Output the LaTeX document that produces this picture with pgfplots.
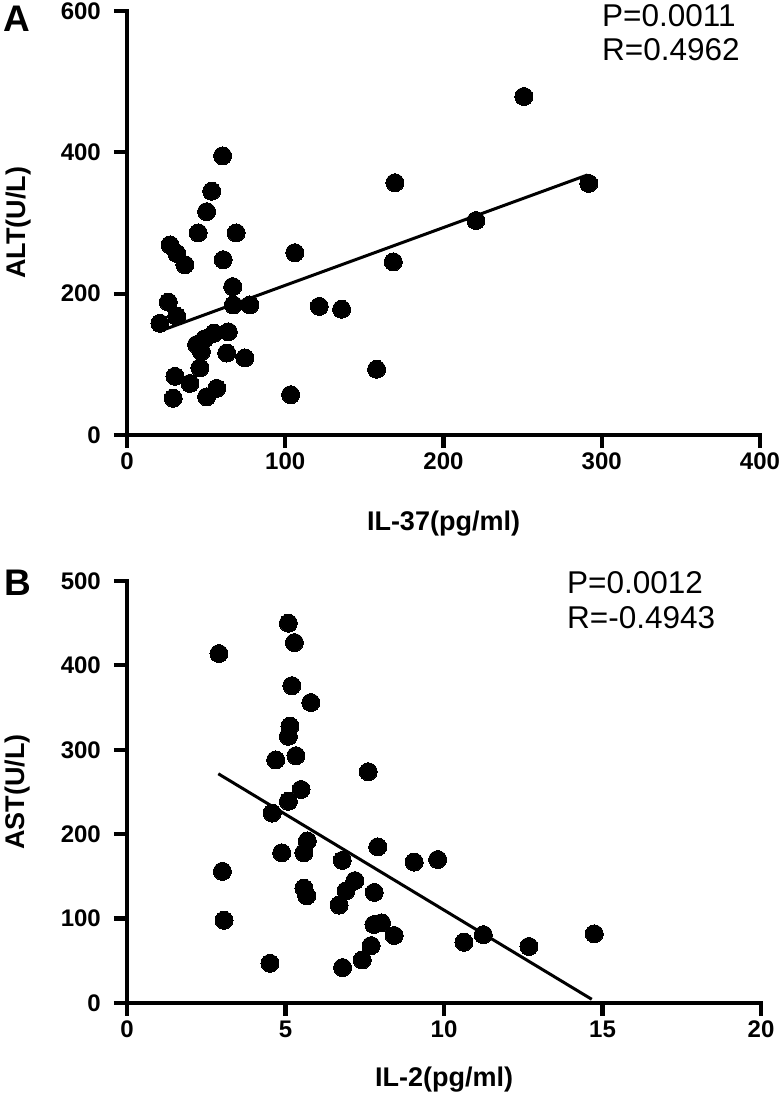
\documentclass[border=0pt]{standalone}
\usepackage{fontspec}
\setmainfont{Liberation Sans}
\usepackage{pgfplots}
\usepackage{pgfplotstable}
\pgfplotsset{compat=1.18}

\pgfplotstableread{
x y
20.8 158
26.1 188
27.2 269
29.2 52
30.3 83
31.4 168
31.4 257
36.6 241
39.8 73
44.0 128
45.0 286
46.1 95
47.0 118
49.0 136
50.3 54
50.3 316
53.5 345
55.0 144
56.7 66
60.4 395
60.8 248
63.0 116
64.0 146
66.8 210
67.2 184
69.0 286
74.5 109
77.7 184
103.4 57
106.0 258
121.5 182
135.6 178
157.7 93
168.3 245
169.3 357
220.5 303.5
250.8 479
291.8 356
}\dataA

\pgfplotstableread{
x y
2.90 414
3.01 156
3.06 98
4.51 47
4.58 225
4.69 288
4.88 178
5.09 450
5.28 427
5.20 376
5.80 356
5.14 328
5.09 316
5.33 293
5.49 253
5.09 239
5.69 192
5.58 178
5.58 136
5.67 127
6.69 116
6.79 169
6.80 42
6.91 133
7.19 145
7.42 51
7.61 274
7.70 68
7.79 93
7.80 131
7.91 185
8.03 95
8.43 80
9.06 167
9.80 170
10.63 72
11.24 81
12.68 67
14.74 82
}\dataB

\pgfplotsset{
  myax/.style={
    scale only axis,
    anchor=south west,
    clip=false,
    axis lines*=left,
    axis line style={line width=4.2pt, -, black, line cap=rect},
    tick align=outside,
    major tick length=13pt,
    major tick style={line width=4.2pt, black},
    /pgf/number format/assume math mode=true,
    ticklabel style={font=\bfseries\fontsize{24}{24}\selectfont},
    xticklabel style={inner sep=0pt, yshift=-5pt},
    yticklabel style={inner sep=0pt, xshift=-13pt},
    label style={font=\bfseries\fontsize{27}{27}\selectfont},
  }
}

\begin{document}
\begin{tikzpicture}[x=1pt,y=1pt]
\path[use as bounding box] (0,0) rectangle (781,1100);

% Panel A
\begin{axis}[myax,
  at={(127pt,665pt)},
  width=633pt, height=424pt,
  xmin=0, xmax=400, ymin=0, ymax=600,
  xtick={0,100,200,300,400},
  ytick={0,200,400,600},
  xlabel={IL-37(pg/ml)},
  ylabel={ALT(U/L)},
  xlabel style={at={(axis description cs:0.5,-0.2241)}, anchor=base},
  ylabel style={at={(axis description cs:-0.1611,0.5)}, anchor=base, rotate=0},
]
\addplot[only marks, mark=*, mark size=9pt, mark options={fill=black, draw=black, line width=0pt}] table[x=x,y=y] {\dataA};
\addplot[black, line width=3pt, no marks] coordinates {(20.8,147) (291.0,368)};
\end{axis}

% Panel B
\begin{axis}[myax,
  at={(127pt,97pt)},
  width=634pt, height=422pt,
  xmin=0, xmax=20, ymin=0, ymax=500,
  xtick={0,5,10,15,20},
  ytick={0,100,200,300,400,500},
  xlabel={IL-2(pg/ml)},
  ylabel={AST(U/L)},
  xlabel style={at={(axis description cs:0.5,-0.1967)}, anchor=base},
  ylabel style={at={(axis description cs:-0.1609,0.5)}, anchor=base, rotate=0},
]
\addplot[only marks, mark=*, mark size=9pt, mark options={fill=black, draw=black, line width=0pt}] table[x=x,y=y] {\dataB};
\addplot[black, line width=3pt, no marks] coordinates {(2.88,271.6) (14.66,4.4)};
\end{axis}

% Panel letters and statistics
\node[anchor=base west, inner sep=0pt, font=\bfseries\fontsize{37}{37}\selectfont] at (3,1068) {A};
\node[anchor=base west, inner sep=0pt, font=\bfseries\fontsize{37}{37}\selectfont] at (4,504) {B};
\node[anchor=base west, inner sep=0pt, font=\fontsize{31.5}{31.5}\selectfont] at (602,1073) {P=0.0011};
\node[anchor=base west, inner sep=0pt, font=\fontsize{31.5}{31.5}\selectfont] at (602,1039) {R=0.4962};
\node[anchor=base west, inner sep=0pt, font=\fontsize{31.5}{31.5}\selectfont] at (567,506) {P=0.0012};
\node[anchor=base west, inner sep=0pt, font=\fontsize{31.5}{31.5}\selectfont] at (567,471) {R=-0.4943};
\end{tikzpicture}
\end{document}
